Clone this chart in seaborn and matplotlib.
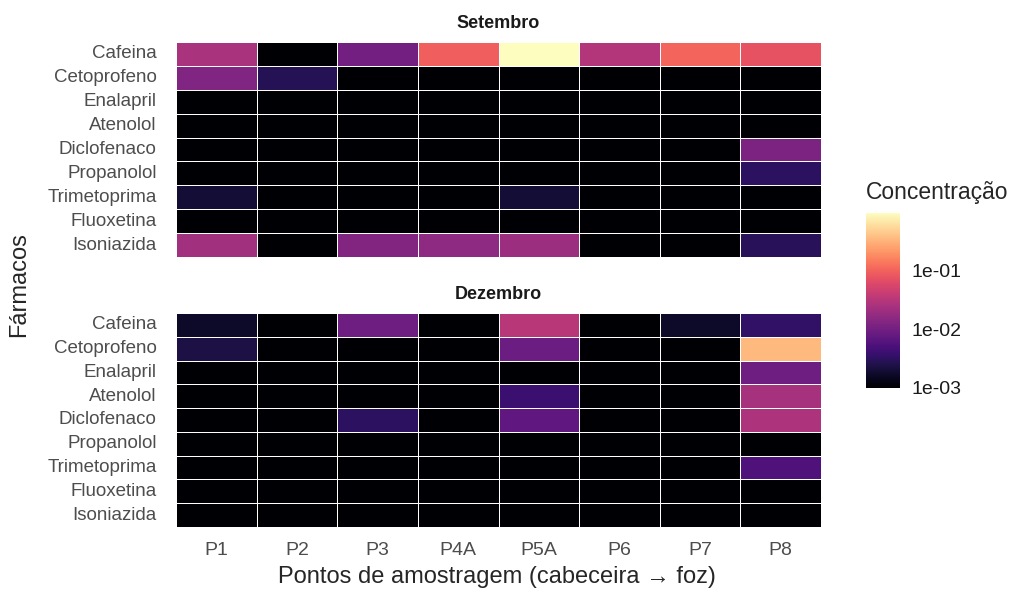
import numpy as np
import pandas as pd
import matplotlib
matplotlib.use("Agg")
import matplotlib.pyplot as plt
import seaborn as sns
from matplotlib.colors import LogNorm

###############################################################################
# Data (concentrations; 1e-03 = below detection / black)
###############################################################################
pontos = ["P1", "P2", "P3", "P4A", "P5A", "P6", "P7", "P8"]
farmacos = ["Cafeina", "Cetoprofeno", "Enalapril", "Atenolol", "Diclofenaco",
            "Propanolol", "Trimetoprima", "Fluoxetina", "Isoniazida"]

setembro = [
    [0.025, 0.001, 0.010, 0.095, 0.96, 0.030, 0.105, 0.075],     # Cafeina
    [0.0125, 0.0028, 0.001, 0.001, 0.001, 0.001, 0.001, 0.001],  # Cetoprofeno
    [0.001, 0.001, 0.001, 0.001, 0.001, 0.001, 0.001, 0.001],   # Enalapril
    [0.001, 0.001, 0.001, 0.001, 0.001, 0.001, 0.001, 0.001],   # Atenolol
    [0.001, 0.001, 0.001, 0.001, 0.001, 0.001, 0.001, 0.012],   # Diclofenaco
    [0.001, 0.001, 0.001, 0.001, 0.001, 0.001, 0.001, 0.0032],  # Propanolol
    [0.002, 0.001, 0.001, 0.001, 0.002, 0.001, 0.001, 0.001],   # Trimetoprima
    [0.001, 0.001, 0.001, 0.001, 0.001, 0.001, 0.001, 0.001],   # Fluoxetina
    [0.022, 0.001, 0.013, 0.016, 0.020, 0.001, 0.001, 0.003],   # Isoniazida
]

dezembro = [
    [0.0017, 0.001, 0.0095, 0.001, 0.031, 0.001, 0.0017, 0.0034],  # Cafeina
    [0.0023, 0.001, 0.001, 0.001, 0.009, 0.001, 0.001, 0.35],      # Cetoprofeno
    [0.001, 0.001, 0.001, 0.001, 0.001, 0.001, 0.001, 0.0095],     # Enalapril
    [0.001, 0.001, 0.001, 0.001, 0.004, 0.001, 0.001, 0.024],      # Atenolol
    [0.001, 0.001, 0.0032, 0.001, 0.0073, 0.001, 0.001, 0.027],    # Diclofenaco
    [0.001, 0.001, 0.001, 0.001, 0.001, 0.001, 0.001, 0.001],      # Propanolol
    [0.001, 0.001, 0.001, 0.001, 0.001, 0.001, 0.001, 0.0055],     # Trimetoprima
    [0.001, 0.001, 0.001, 0.001, 0.001, 0.001, 0.001, 0.001],      # Fluoxetina
    [0.001, 0.001, 0.001, 0.001, 0.001, 0.001, 0.001, 0.001],      # Isoniazida
]

meses = {"Setembro": setembro, "Dezembro": dezembro}

###############################################################################
# Plot
###############################################################################
sns.set_style("white")
plt.rcParams["font.family"] = ["Liberation Sans", "DejaVu Sans"]

W, H = 1016, 590
fig = plt.figure(figsize=(W / 100, H / 100), dpi=100)

def fx(px):
    return px / W

def fy(py):
    return 1 - py / H

left, right = 176, 821
panels = [(42, 257), (313, 527)]
norm = LogNorm(vmin=1e-3, vmax=0.96)

cax = fig.add_axes([fx(866), fy(388), fx(900) - fx(866), fy(213) - fy(388)])

for i, ((mes, vals), (top, bot)) in enumerate(zip(meses.items(), panels)):
    ax = fig.add_axes([fx(left), fy(bot), fx(right) - fx(left), fy(top) - fy(bot)])
    df = pd.DataFrame(vals, index=farmacos, columns=pontos)
    sns.heatmap(df, ax=ax, cmap="magma", norm=norm, linewidths=0.5,
                linecolor="white", cbar=(i == 0), cbar_ax=cax if i == 0 else None)
    ax.set_title(mes, fontsize=13, fontweight="bold", pad=10, color="#1a1a1a")
    ax.set_ylabel("")
    ax.set_xlabel("")
    ax.tick_params(length=0, labelsize=13.5, labelcolor="#4d4d4d")
    ax.tick_params(axis="y", pad=14)
    plt.setp(ax.get_yticklabels(), rotation=0)
    if i == 0:
        ax.set_xticklabels([])
    else:
        ax.tick_params(axis="x", labelsize=14, pad=11)

# colorbar styling
cbar = fig.axes[1].collections[0].colorbar
cbar.outline.set_visible(False)
cbar.set_ticks([1e-3, 1e-2, 1e-1])
cbar.set_ticklabels(["1e-03", "1e-02", "1e-01"])
cax.minorticks_off()
cax.tick_params(axis="y", which="both", direction="in", length=6, width=1,
                color="white", labelsize=14, labelcolor="#1a1a1a",
                left=True, right=True, pad=8)
cax.set_title("Concentração", fontsize=16.5, loc="left", pad=10)

fig.text(fx(19), fy(285), "Fármacos", rotation=90, fontsize=17,
         ha="center", va="center")
fig.text(fx(497), fy(577), "Pontos de amostragem (cabeceira → foz)",
         fontsize=17, ha="center", va="center")

plt.savefig("out.png", dpi=100)
